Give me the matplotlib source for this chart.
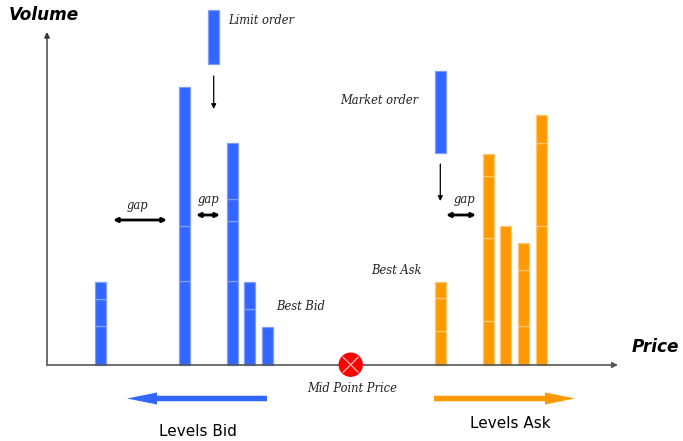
import matplotlib
matplotlib.use("Agg")
import matplotlib.pyplot as plt
from matplotlib.patches import Circle, FancyArrow

# ---- data ----
bid_prices = [100.5, 184.2, 232.2, 249.5, 267.5]
bid_segments = [[39, 27, 17], [84, 55, 139], [84, 60, 22, 56], [56, 27], [38]]
ask_prices = [440.0, 488.0, 505.5, 523.5, 541.5]
ask_segments = [[34, 33, 16], [44, 83, 62, 22], [139], [39, 56, 27], [139, 83, 28]]
limit_price, limit_base, limit_volume = 213.5, 301, 54
market_price, market_base, market_volume = 440.0, 212, 82
mid_price = 350.7

BLUE = "#3366FF"
ORANGE = "#FF9900"
BLUE_EDGE = "#7F9FFF"
ORANGE_EDGE = "#FFC870"
W = 11

fig = plt.figure(figsize=(6.83, 4.41), dpi=100)
ax = fig.add_axes([0, 0, 1, 1])
ax.set_xlim(0, 683)
ax.set_ylim(-76, 365)
ax.axis("off")


def stack(x, segs, color, edge):
    bottom = 0
    for s in segs:
        ax.bar(x, s, width=W, bottom=bottom, color=color, edgecolor=edge, linewidth=0.9)
        bottom += s


for x, segs in zip(bid_prices, bid_segments):
    stack(x, segs, BLUE, BLUE_EDGE)
for x, segs in zip(ask_prices, ask_segments):
    stack(x, segs, ORANGE, ORANGE_EDGE)

ax.bar(limit_price, limit_volume, width=W, bottom=limit_base, color=BLUE, edgecolor=BLUE_EDGE, linewidth=0.9)
ax.bar(market_price, market_volume, width=W, bottom=market_base, color=BLUE, edgecolor=BLUE_EDGE, linewidth=0.9)

# axes
ax.annotate("", xy=(47, 333), xytext=(47, 0),
            arrowprops=dict(arrowstyle="-|>", color="#333333", lw=1.0, mutation_scale=8,
                            shrinkA=0, shrinkB=0))
ax.annotate("", xy=(618, 0), xytext=(47, 0),
            arrowprops=dict(arrowstyle="-|>", color="#555555", lw=1.2, mutation_scale=8,
                            shrinkA=0, shrinkB=0))

# mid point marker
ax.add_patch(Circle((mid_price, 0.3), 11.5, color="#FF0000", zorder=5))
d = 7.5
ax.plot([mid_price - d, mid_price + d], [0.3 - d, 0.3 + d], color="#FFC0C0", lw=0.9, zorder=6)
ax.plot([mid_price - d, mid_price + d], [0.3 + d, 0.3 - d], color="#FFC0C0", lw=0.9, zorder=6)

# small arrows
ax.annotate("", xy=(213.7, 256), xytext=(213.7, 289),
            arrowprops=dict(arrowstyle="-|>", color="black", lw=0.9, mutation_scale=7, shrinkA=0, shrinkB=0))
ax.annotate("", xy=(440.3, 164), xytext=(440.3, 201),
            arrowprops=dict(arrowstyle="-|>", color="black", lw=0.9, mutation_scale=7, shrinkA=0, shrinkB=0))

for x0, x1, y in [(113, 167, 145), (196, 220, 150), (446, 476, 150)]:
    ax.annotate("", xy=(x0, y), xytext=(x1, y),
                arrowprops=dict(arrowstyle="<|-|>", color="black", lw=2.0, mutation_scale=6,
                                shrinkA=0, shrinkB=0))

# big arrows
ax.add_patch(FancyArrow(267, -33.5, -140, 0, width=5.5, head_width=12, head_length=30,
                        length_includes_head=True, color=BLUE, lw=0))
ax.add_patch(FancyArrow(434, -33.5, 141, 0, width=5.5, head_width=12, head_length=30,
                        length_includes_head=True, color=ORANGE, lw=0))

# text
serif = dict(family="DejaVu Serif", style="italic", fontsize=8.3, color="#222222")
ax.text(228, 344, "Limit order", ha="left", va="center", **serif)
ax.text(340, 265, "Market order", ha="left", va="center", **serif)
ax.text(137, 160, "gap", ha="center", va="center", **serif)
ax.text(208, 166, "gap", ha="center", va="center", **serif)
ax.text(464, 165, "gap", ha="center", va="center", **serif)
ax.text(276, 59, "Best Bid", ha="left", va="center", **serif)
ax.text(371, 94, "Best Ask", ha="left", va="center", **serif)
ax.text(352, -23, "Mid Point Price", ha="center", va="center", **serif)

bold = dict(family="DejaVu Sans", style="italic", weight="bold", fontsize=12.2, color="black")
ax.text(9, 350, "Volume", ha="left", va="center", **bold)
ax.text(632, 18, "Price", ha="left", va="center", **bold)

ax.text(198, -66, "Levels Bid", ha="center", va="center", family="DejaVu Sans", fontsize=11, color="black")
ax.text(510, -59, "Levels Ask", ha="center", va="center", family="DejaVu Sans", fontsize=11, color="black")

fig.savefig("out.png", dpi=100)
